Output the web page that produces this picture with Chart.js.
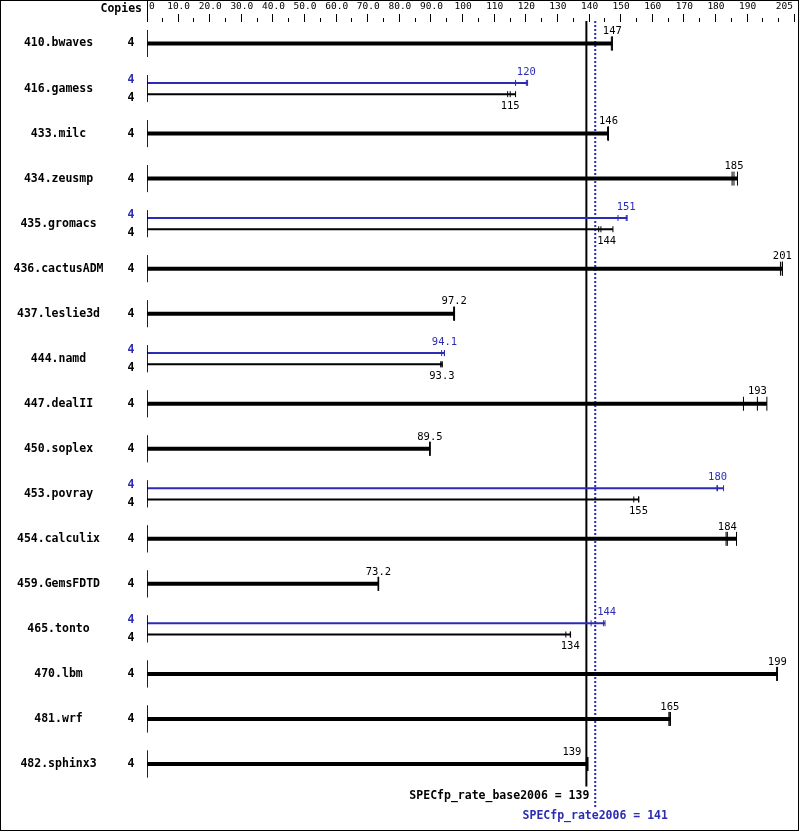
<!DOCTYPE html>
<html>
<head>
<meta charset="utf-8">
<script src="https://cdn.jsdelivr.net/npm/chart.js@4.4.1/dist/chart.umd.min.js"></script>
<style>
  html, body { margin: 0; padding: 0; background: #fff; }
  canvas { display: block; }
</style>
</head>
<body>
<canvas id="myChart" width="799" height="831"></canvas>
<script>
// Datos

const benchmarks = [
  "410.bwaves", "416.gamess", "433.milc", "434.zeusmp", "435.gromacs",
  "436.cactusADM", "437.leslie3d", "444.namd", "447.dealII", "450.soplex",
  "453.povray", "454.calculix", "459.GemsFDTD", "465.tonto", "470.lbm",
  "481.wrf", "482.sphinx3"
];

const copiesBase = [4, 4, 4, 4, 4, 4, 4, 4, 4, 4, 4, 4, 4, 4, 4, 4, 4];
const copiesPeak = [null, 4, null, null, 4, null, null, 4, null, null, 4, null, null, 4, null, null, null];

// tres corridas por benchmark (la mediana es la del medio)
const baseRuns = [
  [146.9, 147.2, 147.2],
  [114.1, 114.9, 116.6],
  [145.7, 146.0, 146.0],
  [185.1, 185.7, 186.8],
  [142.9, 143.6, 147.4],
  [200.4, 201.0, 201.0],
  [97.0, 97.2, 97.3],
  [92.9, 93.3, 93.4],
  [188.7, 193.1, 196.1],
  [89.4, 89.5, 89.6],
  [154.0, 155.5, 155.6],
  [183.2, 183.6, 186.5],
  [73.1, 73.2, 73.3],
  [132.5, 133.9, 134.0],
  [199.2, 199.4, 199.4],
  [165.1, 165.4, 165.6],
  [139.2, 139.4, 139.5]
];

const peakRuns = [
  null,
  [116.6, 120.0, 120.4],
  null,
  null,
  [149.0, 151.6, 151.9],
  null,
  null,
  [93.2, 94.1, 94.1],
  null,
  null,
  [180.3, 180.5, 182.4],
  null,
  null,
  [140.5, 144.4, 144.9],
  null,
  null,
  null
];

const baseLabels = ["147", "115", "146", "185", "144", "201", "97.2", "93.3", "193", "89.5",
  "155", "184", "73.2", "134", "199", "165", "139"];
const peakLabels = [null, "120", null, null, "151", null, null, "94.1", null, null,
  "180", null, null, "144", null, null, null];

const tickValues = [0, 10, 20, 30, 40, 50, 60, 70, 80, 90, 100, 110, 120, 130, 140, 150, 160, 170, 180, 190, 205];
const tickLabels = ["0", "10.0", "20.0", "30.0", "40.0", "50.0", "60.0", "70.0", "80.0", "90.0",
  "100", "110", "120", "130", "140", "150", "160", "170", "180", "190", "205"];
const minorTicks = [5, 15, 25, 35, 45, 55, 65, 75, 85, 95, 105, 115, 125, 135, 145, 155, 165, 175, 185, 195, 200];

const baseMean = 139;
const peakMean = 141.8;
const baseMeanText = "SPECfp_rate_base2006 = 139";
const peakMeanText = "SPECfp_rate2006 = 141";

const NEGRO = "#000000";
const AZUL = "#2b2bb3";
const FUENTE_MONO = "'DejaVu Sans Mono', monospace";

// Datasets

function linea(data, color, ancho, extra) {
  return Object.assign({
    data: data,
    showLine: true,
    borderColor: color,
    borderWidth: ancho,
    borderCapStyle: "butt",
    pointRadius: 0,
    pointHoverRadius: 0
  }, extra || {});
}

function marcas(valores, y, color, radio) {
  return {
    data: valores.map((v) => ({ x: v, y: y })),
    showLine: false,
    pointStyle: "line",
    pointRotation: 90,
    pointRadius: radio,
    pointHoverRadius: radio,
    pointBorderColor: color,
    pointBackgroundColor: color,
    pointBorderWidth: 1
  };
}

const datasets = [];

benchmarks.forEach((nombre, i) => {
  // pequeño eje vertical de cada fila
  datasets.push(linea([{ x: 0, y: i - 0.3 }, { x: 0, y: i + 0.3 }], NEGRO, 1));

  if (peakRuns[i]) {
    const yPeak = i - 0.125;
    const yBase = i + 0.125;
    datasets.push(linea([{ x: 0, y: yPeak }, { x: Math.max(...peakRuns[i]), y: yPeak }], AZUL, 2));
    datasets.push(marcas(peakRuns[i], yPeak, AZUL, 3));
    datasets.push(linea([{ x: 0, y: yBase }, { x: Math.max(...baseRuns[i]), y: yBase }], NEGRO, 2));
    datasets.push(marcas(baseRuns[i], yBase, NEGRO, 3));
  } else {
    datasets.push(linea([{ x: 0, y: i }, { x: Math.max(...baseRuns[i]), y: i }], NEGRO, 4));
    datasets.push(marcas(baseRuns[i], i, NEGRO, 7));
  }
});

// lineas de la media
datasets.push(linea([{ x: baseMean, y: -0.5 }, { x: baseMean, y: 16.5 }], NEGRO, 2));
datasets.push(linea([{ x: peakMean, y: -0.5 }, { x: peakMean, y: 17 }], AZUL, 2, { borderDash: [2, 2] }));

// Plugin para textos y eje superior

const textos = {
  id: "textos",
  afterDraw(chart) {
    const c = chart.ctx;
    const xs = chart.scales.x;
    const ys = chart.scales.y;
    const area = chart.chartArea;

    c.save();

    // marco
    c.strokeStyle = NEGRO;
    c.lineWidth = 1;
    c.strokeRect(0.5, 0.5, chart.width - 1, chart.height - 1);

    // eje superior
    const x0 = Math.round(xs.getPixelForValue(0)) + 0.5;
    c.beginPath();
    c.moveTo(x0, 1);
    c.lineTo(x0, area.top + 1);
    tickValues.forEach((v) => {
      if (v === 0) return;
      const px = Math.round(xs.getPixelForValue(v)) - 0.5;
      c.moveTo(px, area.top - 7);
      c.lineTo(px, area.top + 1);
    });
    minorTicks.forEach((v) => {
      const px = Math.round(xs.getPixelForValue(v)) - 0.5;
      c.moveTo(px, area.top - 3);
      c.lineTo(px, area.top + 1);
    });
    c.stroke();

    c.fillStyle = NEGRO;
    c.font = "9.5px " + FUENTE_MONO;
    c.textBaseline = "middle";
    tickValues.forEach((v, k) => {
      const px = xs.getPixelForValue(v);
      if (k === 0) {
        c.textAlign = "left";
        c.fillText(tickLabels[k], px + 2, 7);
      } else if (k === tickValues.length - 1) {
        c.textAlign = "right";
        c.fillText(tickLabels[k], px - 2, 7);
      } else {
        c.textAlign = "center";
        c.fillText(tickLabels[k], px, 7);
      }
    });

    c.font = "bold 11.5px " + FUENTE_MONO;
    c.textAlign = "right";
    c.fillText("Copies", 142, 9);

    // nombres y copias
    benchmarks.forEach((nombre, i) => {
      c.font = "bold 11.5px " + FUENTE_MONO;
      c.textAlign = "center";
      c.fillStyle = NEGRO;
      c.fillText(nombre, 58.5, ys.getPixelForValue(i));
      if (peakRuns[i]) {
        c.fillStyle = AZUL;
        c.fillText(String(copiesPeak[i]), 131, ys.getPixelForValue(i - 0.19));
        c.fillStyle = NEGRO;
        c.fillText(String(copiesBase[i]), 131, ys.getPixelForValue(i + 0.2));
      } else {
        c.fillText(String(copiesBase[i]), 131, ys.getPixelForValue(i));
      }
    });

    // etiquetas de valores, evitando las lineas de la media
    const xMedia = xs.getPixelForValue(baseMean);
    const xPeak = xs.getPixelForValue(peakMean);
    function etiqueta(texto, valor, y, color) {
      c.font = "10.5px " + FUENTE_MONO;
      c.fillStyle = color;
      c.textAlign = "left";
      const w = c.measureText(texto).width;
      let izq = xs.getPixelForValue(valor) - w / 2;
      const der = izq + w;
      const limIzq = xMedia - 5;
      const limDer = xPeak + 2;
      if (der > limIzq && izq < limDer) {
        const moverIzq = der - limIzq;
        const moverDer = limDer - izq;
        izq = moverIzq < moverDer ? limIzq - w : limDer;
      }
      c.fillText(texto, izq, y);
    }

    benchmarks.forEach((nombre, i) => {
      if (peakRuns[i]) {
        const yPeak = ys.getPixelForValue(i - 0.125);
        const yBase = ys.getPixelForValue(i + 0.125);
        etiqueta(peakLabels[i], peakRuns[i][1], yPeak - 11, AZUL);
        etiqueta(baseLabels[i], baseRuns[i][1], yBase + 12, NEGRO);
      } else {
        etiqueta(baseLabels[i], baseRuns[i][1], ys.getPixelForValue(i) - 12, NEGRO);
      }
    });

    // textos de las medias
    c.font = "bold 11.5px " + FUENTE_MONO;
    c.fillStyle = NEGRO;
    c.textAlign = "right";
    c.fillText(baseMeanText, xMedia + 3, ys.getPixelForValue(16.72));
    c.fillStyle = AZUL;
    c.textAlign = "center";
    c.fillText(peakMeanText, xPeak, ys.getPixelForValue(17.16));

    c.restore();
  }
};

const ctx = document.getElementById("myChart");

const myChart = new Chart(ctx, {
  type: "scatter",
  data: { datasets: datasets },
  options: {
    responsive: false,
    animation: false,
    devicePixelRatio: 1,
    layout: {
      autoPadding: false,
      padding: { left: 147, right: 4, top: 21, bottom: 22 }
    },
    plugins: {
      legend: { display: false },
      tooltip: { enabled: false }
    },
    scales: {
      x: { type: "linear", min: 0, max: 205, display: false },
      y: { type: "linear", min: -0.5, max: 17, reverse: true, display: false }
    }
  },
  plugins: [textos]
});
</script>
</body>
</html>
